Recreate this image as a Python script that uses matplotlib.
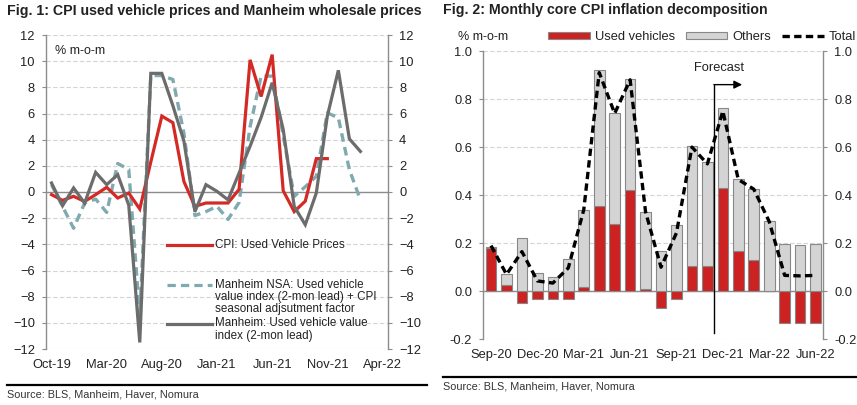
import matplotlib
matplotlib.use('Agg')
import matplotlib.pyplot as plt
from matplotlib.lines import Line2D
import matplotlib.patches as mpatches
import numpy as np

plt.rcParams['font.family'] = ['Liberation Sans', 'DejaVu Sans']

# ---- Fig. 1 data (monthly, starting Oct-19) ----
fig1_ticks = ['Oct-19', 'Mar-20', 'Aug-20', 'Jan-21', 'Jun-21', 'Nov-21', 'Apr-22']
cpi_used = [-0.2, -0.64, -0.33, -0.72, -0.2, 0.36, -0.46, -0.08, -1.3, 2.3,
            5.8, 5.3, 0.8, -1.1, -0.84, -0.84, -0.84, 0.2, 10.1, 7.3,
            10.5, 0.1, -1.5, -0.7, 2.55, 2.55]
manheim_nsa = [0.56, -1.1, -2.77, -0.85, -0.54, -1.56, 2.18, 1.72, -9.5, 8.9,
               8.9, 8.6, 4.5, -1.8, -1.5, -1.1, -2.1, -0.8, 5.0, 8.86,
               8.86, 4.3, -0.33, 0.4, 1.2, 6.05, 5.67, 1.7, -0.6]
manheim_sa = [0.69, -1.05, 0.31, -0.85, 1.5, 0.56, 1.33, -1.0, -11.5, 9.07,
              9.07, 6.6, 3.9, -1.5, 0.56, 0.05, -0.6, 1.45, 3.5, 5.7,
              8.35, 4.78, -1.1, -2.5, -0.08, 5.8, 9.3, 4.06, 3.1]

# ---- Fig. 2 data (monthly, Sep-20 .. Jun-22) ----
fig2_ticks = ['Sep-20', 'Dec-20', 'Mar-21', 'Jun-21', 'Sep-21', 'Dec-21', 'Mar-22', 'Jun-22']
used_vehicles = [0.182, 0.028, -0.05, -0.033, -0.033, -0.033, 0.017, 0.353, 0.279, 0.422,
                 0.008, -0.071, -0.033, 0.104, 0.107, 0.429, 0.168, 0.128, 0.0, -0.131,
                 -0.131, -0.131]
others = [0.004, 0.044, 0.222, 0.075, 0.061, 0.133, 0.322, 0.569, 0.463, 0.461,
          0.323, 0.169, 0.276, 0.499, 0.431, 0.333, 0.299, 0.298, 0.293, 0.197,
          0.194, 0.197]
total = [0.19, 0.07, 0.165, 0.043, 0.034, 0.097, 0.339, 0.91, 0.74, 0.88,
         0.33, 0.1, 0.243, 0.6, 0.53, 0.75, 0.465, 0.425, 0.29, 0.066,
         0.064, 0.066]

RED = '#d42a26'
GREY = '#6c6c6c'
TEAL = '#80aab0'
GRID = '#d4d4d4'
TXT = '#222222'


def style_axes(ax):
    for s in ['top', 'bottom']:
        ax.spines[s].set_visible(False)
    for s in ['left', 'right']:
        ax.spines[s].set_color('#8c8c8c')
        ax.spines[s].set_linewidth(1.0)
    ax.tick_params(axis='y', length=3, width=0.8, color='#8c8c8c', pad=5,
                   labelsize=9.3, labelcolor=TXT)
    ax.tick_params(axis='x', length=0, pad=7, labelsize=9.3, labelcolor=TXT)
    ax.grid(axis='y', color=GRID, linestyle=(0, (4, 2)), linewidth=0.8)
    ax.set_axisbelow(True)


fig = plt.figure(figsize=(8.57, 4.05), dpi=100)

# ================= Fig. 1 =================
ax1 = fig.add_axes([46 / 857, 1 - 349 / 405, 342 / 857, 314 / 405])
style_axes(ax1)
ax1.axhline(0, color='#8c8c8c', lw=1.0, zorder=1)
ax1.plot(np.arange(len(cpi_used)), cpi_used, color=RED, lw=2.3, zorder=3,
         solid_joinstyle='miter')
ax1.plot(np.arange(len(manheim_nsa)), manheim_nsa, color=TEAL, lw=2.4, zorder=2,
         linestyle=(0, (2.6, 1.6)))
ax1.plot(np.arange(len(manheim_sa)), manheim_sa, color=GREY, lw=2.3, zorder=4,
         solid_joinstyle='miter')
ax1.set_xlim(-0.5, 30.5)
ax1.set_ylim(-12, 12)
ax1.set_yticks(np.arange(-12, 13, 2))
ax1.set_xticks(np.arange(0, 31, 5))
ax1.set_xticklabels(fig1_ticks)
ax1.tick_params(axis='y', right=True, labelright=True)
ax1.text(0.027, 0.95, '% m-o-m', transform=ax1.transAxes, fontsize=9, color=TXT,
         va='center', ha='left')

# manual legend
leg_items = [(RED, '-', 'CPI: Used Vehicle Prices', 245),
             (TEAL, (0, (2.6, 1.6)), 'Manheim NSA: Used vehicle\nvalue index (2-mon lead) + CPI\nseasonal adjsutment factor', 285),
             (GREY, '-', 'Manheim: Used vehicle value\nindex (2-mon lead)', 324)]
for col, ls, lab, yy in leg_items:
    fig.add_artist(Line2D([167 / 857, 212 / 857], [1 - yy / 405, 1 - yy / 405],
                          color=col, lw=2.3, linestyle=ls))
    fig.text(215 / 857, 1 - (yy - 6.5) / 405, lab, fontsize=8.4, color=TXT,
             va='top', ha='left', linespacing=1.05)

fig.text(7 / 857, 1 - 11 / 405, 'Fig. 1: CPI used vehicle prices and Manheim wholesale prices',
         fontsize=10.15, fontweight='bold', color=TXT, va='center', ha='left')
fig.add_artist(Line2D([7 / 857, 427 / 857], [1 - 384.5 / 405, 1 - 384.5 / 405],
                      color='black', lw=1.6))
fig.text(7 / 857, 1 - 394.5 / 405, 'Source: BLS, Manheim, Haver, Nomura',
         fontsize=7.8, color='#333333', va='center', ha='left')

# ================= Fig. 2 =================
ax2 = fig.add_axes([483.3 / 857, 1 - 339.3 / 405, 340 / 857, 288.3 / 405])
style_axes(ax2)
x = np.arange(len(used_vehicles))
used = np.array(used_vehicles)
oth = np.array(others)
base = np.where(used > 0, used, 0)
ax2.bar(x, used, width=0.69, color='#cc2222', edgecolor='#888888', linewidth=0.8, zorder=2)
ax2.bar(x, oth, bottom=base, width=0.69, color='#d4d4d4', edgecolor='#888888',
        linewidth=0.8, zorder=2)
ax2.axhline(0, color='#8c8c8c', lw=1.0, zorder=1)
ax2.plot(x, total, color='black', lw=2.4, linestyle=(0, (2.2, 1.3)), zorder=4)
ax2.set_xlim(-0.5, 21.5)
ax2.set_ylim(-0.2, 1.0)
ax2.set_yticks(np.arange(-0.2, 1.01, 0.2))
ax2.yaxis.set_major_formatter(matplotlib.ticker.FormatStrFormatter('%.1f'))
ax2.set_xticks(np.arange(0, 22, 3))
ax2.set_xticklabels(fig2_ticks)
ax2.tick_params(axis='y', right=True, labelright=True)

# forecast marker
ax2.plot([14.45, 14.45], [-0.175, 0.86], color='black', lw=1.0, zorder=5)
ax2.annotate('', xy=(16.25, 0.86), xytext=(14.42, 0.86),
             arrowprops=dict(arrowstyle='-|>', color='black', lw=1.0,
                             mutation_scale=12, shrinkA=0, shrinkB=0), zorder=5)
ax2.text(14.75, 0.93, 'Forecast', fontsize=9.3, color=TXT, ha='center', va='center')

fig.text(458 / 857, 1 - 37 / 405, '% m-o-m', fontsize=9, color=TXT, va='center', ha='left')
handles = [mpatches.Patch(facecolor='#cc2222', edgecolor='#888888', linewidth=0.8),
           mpatches.Patch(facecolor='#d4d4d4', edgecolor='#888888', linewidth=0.8),
           Line2D([0], [0], color='black', lw=2.4, linestyle=(0, (2.2, 1.3)))]
fig.legend(handles, ['Used vehicles', 'Others', 'Total'], ncol=3, frameon=False,
           loc='center left', bbox_to_anchor=(542 / 857, 1 - 37 / 405),
           bbox_transform=fig.transFigure, fontsize=9.3, borderpad=0,
           handlelength=3.2, handleheight=0.55, handletextpad=0.4,
           columnspacing=0.85, labelcolor=TXT)

fig.text(443 / 857, 1 - 10 / 405, 'Fig. 2: Monthly core CPI inflation decomposition',
         fontsize=10.15, fontweight='bold', color=TXT, va='center', ha='left')
fig.add_artist(Line2D([443 / 857, 1.0], [1 - 376.7 / 405, 1 - 376.7 / 405],
                      color='black', lw=1.6))
fig.text(443 / 857, 1 - 386.7 / 405, 'Source: BLS, Manheim, Haver, Nomura',
         fontsize=7.8, color='#333333', va='center', ha='left')

fig.savefig('out.png', dpi=100, facecolor='white')
